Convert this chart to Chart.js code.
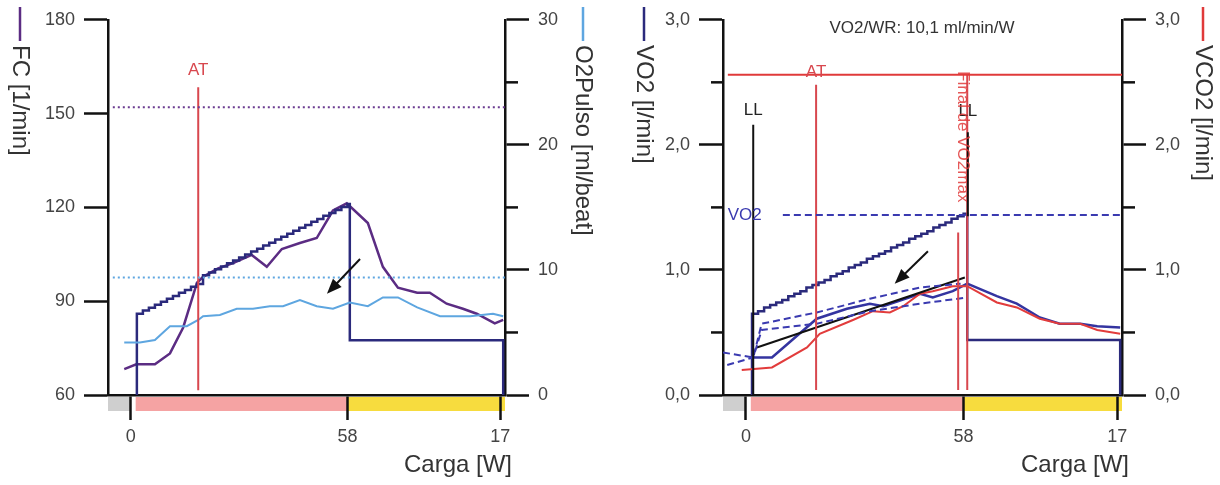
<!DOCTYPE html>
<html>
<head>
<meta charset="utf-8">
<script src="https://cdn.jsdelivr.net/npm/chart.js@4.4.1/dist/chart.umd.min.js"></script>
<style>
  body { margin: 0; background: #fff; }
  .panel { position: absolute; top: 0; width: 610px; height: 485px; }
</style>
</head>
<body>
<div class="panel" style="left:0"><canvas id="left" width="610" height="485"></canvas></div>
<div class="panel" style="left:610px"><canvas id="right" width="610" height="485"></canvas></div>
<script>
// time axis (s) with the load labels shown at phase changes
const tickTimes = [0, 360, 614];
const tickLabels = ['0', '58', '17'];
const phaseStart = [-38, 8, 360];
const phaseEnd = [0, 360, 622];

// left panel: FC and O2 pulse
const fcT = [-11, 9, 40, 65, 87, 110, 120, 145, 170, 201, 226, 251, 281, 309, 336, 359, 394, 419, 444, 476, 497, 525, 552, 575, 605, 619];
const fcV = [68.3, 69.8, 69.8, 73.3, 81.6, 95.9, 97.8, 100.5, 102.2, 104.8, 101, 106.7, 108.6, 110.2, 119, 121.3, 115, 101, 94.3, 92.7, 92.7, 89.2, 87.6, 86, 82.9, 84];
const o2T = [-11, 15, 40, 65, 93, 112, 120, 148, 176, 203, 231, 253, 281, 309, 336, 364, 394, 419, 444, 476, 514, 564, 602, 619];
const o2V = [4.2, 4.2, 4.4, 5.5, 5.5, 6.0, 6.3, 6.4, 6.9, 6.9, 7.1, 7.1, 7.6, 7.1, 6.9, 7.4, 7.1, 7.8, 7.8, 7.0, 6.3, 6.3, 6.5, 6.3];
const loadT = [10, 10, 20, 30, 40, 50, 60, 70, 80, 90, 100, 110, 120, 130, 140, 150, 160, 170, 180, 190, 200, 210, 220, 230, 240, 250, 260, 270, 280, 290, 300, 310, 320, 330, 340, 350, 360, 364, 619, 619];
const loadV = [60, 86.0, 87.0, 87.9, 88.9, 89.8, 90.8, 91.7, 92.7, 93.6, 94.6, 95.5, 98.3, 99.2, 100.2, 101.1, 102.1, 103.0, 104.0, 104.9, 105.9, 106.8, 107.8, 108.7, 109.7, 110.6, 111.6, 112.5, 113.5, 114.4, 115.4, 116.3, 117.3, 118.2, 119.2, 120.1, 121.1, 77.5, 77.5, 60];
const fcRef = 152;
const o2Ref = 9.4;
const atLeft = 112;

// right panel: VO2 and VCO2
const load2T = [10, 10, 20, 30, 40, 50, 60, 70, 80, 90, 100, 110, 120, 130, 140, 150, 160, 170, 180, 190, 200, 210, 220, 230, 240, 250, 260, 270, 280, 290, 300, 310, 320, 330, 340, 350, 360, 366, 619, 619];
const load2V = [0, 0.65, 0.67, 0.70, 0.72, 0.74, 0.76, 0.79, 0.81, 0.83, 0.86, 0.88, 0.90, 0.92, 0.95, 0.97, 0.99, 1.02, 1.04, 1.06, 1.09, 1.11, 1.13, 1.15, 1.18, 1.20, 1.22, 1.25, 1.27, 1.29, 1.31, 1.34, 1.36, 1.38, 1.41, 1.43, 1.45, 0.44, 0.44, 0];
const vo2T = [12, 43, 117, 167, 205, 227, 288, 309, 342, 366, 415, 448, 486, 519, 553, 581, 619];
const vo2V = [0.30, 0.30, 0.61, 0.69, 0.73, 0.71, 0.81, 0.78, 0.83, 0.89, 0.79, 0.73, 0.62, 0.57, 0.57, 0.55, 0.54];
const vco2T = [-7, 43, 101, 122, 177, 210, 238, 260, 288, 309, 342, 366, 415, 448, 486, 519, 553, 581, 619];
const vco2V = [0.20, 0.22, 0.38, 0.49, 0.60, 0.67, 0.66, 0.71, 0.81, 0.83, 0.87, 0.87, 0.74, 0.70, 0.61, 0.57, 0.57, 0.52, 0.49];
const regT = [18, 362];
const regV = [0.38, 0.94];
const upT = [-38, 12, 26, 117, 205, 288, 355];
const upV = [0.34, 0.30, 0.57, 0.66, 0.77, 0.86, 0.89];
const loT = [-31, 12, 26, 117, 205, 288, 366];
const loV = [0.24, 0.30, 0.52, 0.57, 0.67, 0.73, 0.78];
const vo2Max = 1.44;
const atRef = 2.56;
const atRight = 116;
const llT = [12, 367];
const endT = [351, 366];

const FONT = '"Liberation Sans", Arial, sans-serif';
const pts = (ts, vs) => ts.map((t, i) => ({ x: t, y: vs[i] }));
const comma = v => Number(v).toFixed(1).replace('.', ',');

function line(data, color, width, yAxisID, extra) {
  return Object.assign({ data, borderColor: color, borderWidth: width, yAxisID,
    pointRadius: 0, tension: 0, fill: false }, extra || {});
}

function axisY(pos, min, max, step, width, fmt) {
  return {
    position: pos, min, max,
    afterFit: s => { s.width = width; },
    ticks: { stepSize: step, color: '#444', font: { size: 18, family: FONT }, padding: 9, callback: fmt },
    grid: { drawOnChartArea: false, tickLength: 24, tickWidth: 2.5, tickColor: '#111' },
    border: { color: '#111', width: 2.5 }
  };
}

const axisX = {
  type: 'linear', min: -38, max: 622,
  afterFit: s => { s.height = 90; },
  afterBuildTicks: s => { s.ticks = tickTimes.map(v => ({ value: v })); },
  ticks: { callback: (v, i) => tickLabels[i], autoSkip: false, maxRotation: 0,
    color: '#444', font: { size: 18, family: FONT }, padding: 6 },
  grid: { drawOnChartArea: false, tickLength: 25, tickWidth: 2.5, tickColor: '#111' },
  border: { color: '#111', width: 2.5 }
};

function vTitle(ctx, text, color, cx) {
  ctx.save();
  ctx.strokeStyle = color; ctx.lineWidth = 2.5;
  ctx.beginPath(); ctx.moveTo(cx, 7); ctx.lineTo(cx, 41); ctx.stroke();
  ctx.translate(cx, 45); ctx.rotate(Math.PI / 2);
  ctx.fillStyle = '#333'; ctx.font = '24px ' + FONT;
  ctx.textAlign = 'left'; ctx.textBaseline = 'middle';
  ctx.fillText(text, 0, 0);
  ctx.restore();
}

function arrow(ctx, x0, y0, x1, y1) {
  const a = Math.atan2(y1 - y0, x1 - x0);
  ctx.save();
  ctx.strokeStyle = '#111'; ctx.fillStyle = '#111'; ctx.lineWidth = 2;
  ctx.beginPath(); ctx.moveTo(x0, y0);
  ctx.lineTo(x1 - 10 * Math.cos(a), y1 - 10 * Math.sin(a)); ctx.stroke();
  ctx.beginPath(); ctx.moveTo(x1, y1);
  ctx.lineTo(x1 - 15 * Math.cos(a) + 6 * Math.sin(a), y1 - 15 * Math.sin(a) - 6 * Math.cos(a));
  ctx.lineTo(x1 - 15 * Math.cos(a) - 6 * Math.sin(a), y1 - 15 * Math.sin(a) + 6 * Math.cos(a));
  ctx.closePath(); ctx.fill();
  ctx.restore();
}

function text(ctx, str, x, y, color, size, align) {
  ctx.save();
  ctx.fillStyle = color; ctx.font = size + 'px ' + FONT;
  ctx.textAlign = align || 'center'; ctx.textBaseline = 'middle';
  ctx.fillText(str, x, y);
  ctx.restore();
}

function decor(opts) {
  return {
    id: 'decor',
    beforeDraw(chart) {
      const { ctx, chartArea: a, scales: { x } } = chart;
      const cols = ['#cfcfcf', '#f5a3a3', '#f7dc3e'];
      phaseStart.forEach((s, i) => {
        const x0 = x.getPixelForValue(s), x1 = x.getPixelForValue(phaseEnd[i]);
        ctx.fillStyle = cols[i];
        ctx.fillRect(x0, a.bottom + 2, x1 - x0, 14);
      });
    },
    afterDraw(chart) {
      const { ctx, chartArea: a, scales } = chart;
      // minor ticks
      ctx.save();
      ctx.strokeStyle = '#111'; ctx.lineWidth = 2.5;
      opts.minor.forEach(m => {
        const s = scales[m.axis];
        m.values.forEach(v => {
          const y = s.getPixelForValue(v);
          const x0 = s.position === 'left' ? a.left : a.right;
          const x1 = s.position === 'left' ? a.left - 12 : a.right + 13;
          ctx.beginPath(); ctx.moveTo(x0, y); ctx.lineTo(x1, y); ctx.stroke();
        });
      });
      ctx.restore();
      opts.titles.forEach(t => vTitle(ctx, t.text, t.color, t.x));
      text(ctx, 'Carga [W]', a.right + 7, 465, '#333', 24, 'right');
      opts.draw(chart);
    }
  };
}

const common = {
  responsive: false, animation: false, devicePixelRatio: 1,
  layout: { padding: { top: 17 } },
  plugins: { legend: { display: false }, tooltip: { enabled: false } }
};

new Chart(document.getElementById('left'), {
  type: 'line',
  data: {
    datasets: [
      line(pts([-30, 622], [fcRef, fcRef]), '#6a3a90', 2, 'y', { borderDash: [2, 3] }),
      line(pts([-30, 622], [o2Ref, o2Ref]), '#5ea6e0', 2, 'y2', { borderDash: [2, 3] }),
      line(pts([atLeft, atLeft], [61.5, 158.4]), '#d8474e', 2, 'y'),
      line(pts(o2T, o2V), '#5ea6e0', 2, 'y2'),
      line(pts(loadT, loadV), '#2b2a7c', 2.5, 'y', { stepped: 'before' }),
      line(pts(fcT, fcV), '#5b2c83', 2.5, 'y')
    ]
  },
  options: Object.assign({}, common, {
    scales: {
      x: axisX,
      y: axisY('left', 60, 180, 30, 108, v => v),
      y2: axisY('right', 0, 30, 10, 105, v => v)
    }
  }),
  plugins: [decor({
    minor: [{ axis: 'y2', values: [5, 15, 25] }],
    titles: [{ text: 'FC [1/min]', color: '#5b2c83', x: 20 },
             { text: 'O2Pulso [ml/beat]', color: '#5ea6e0', x: 583 }],
    draw(chart) {
      const { ctx, scales: { x, y } } = chart;
      text(ctx, 'AT', x.getPixelForValue(atLeft), y.getPixelForValue(163.8), '#d8474e', 17);
      arrow(ctx, x.getPixelForValue(381), y.getPixelForValue(103.5), x.getPixelForValue(326), y.getPixelForValue(92.4));
    }
  })]
});

new Chart(document.getElementById('right'), {
  type: 'line',
  data: {
    datasets: [
      line(pts([-30, 622], [atRef, atRef]), '#e03a3a', 2, 'y'),
      line(pts([61, 622], [vo2Max, vo2Max]), '#3a3ab0', 2, 'y', { borderDash: [7, 4] }),
      line(pts([atRight, atRight], [0.04, 2.48]), '#d8474e', 2, 'y'),
      line(pts([llT[0], llT[0]], [0, 2.16]), '#111', 2, 'y'),
      line(pts([llT[1], llT[1]], [1.43, 2.10]), '#111', 2, 'y'),
      line(pts([endT[0], endT[0]], [0.04, 1.30]), '#d8474e', 2, 'y'),
      line(pts([endT[1], endT[1]], [0.04, atRef]), '#d8474e', 2, 'y'),
      line(pts(upT, upV), '#3a3ab0', 2, 'y', { borderDash: [7, 4] }),
      line(pts(loT, loV), '#3a3ab0', 2, 'y', { borderDash: [7, 4] }),
      line(pts(regT, regV), '#111', 2, 'y'),
      line(pts(vco2T, vco2V), '#e23c3c', 2, 'y2'),
      line(pts(vo2T, vo2V), '#3434a0', 2.5, 'y'),
      line(pts(load2T, load2V), '#2b2a7c', 2.5, 'y', { stepped: 'before' })
    ]
  },
  options: Object.assign({}, common, {
    scales: {
      x: axisX,
      y: axisY('left', 0, 3, 1, 113, comma),
      y2: axisY('right', 0, 3, 1, 98, comma)
    }
  }),
  plugins: [decor({
    minor: [{ axis: 'y', values: [0.5, 1.5, 2.5] }, { axis: 'y2', values: [0.5, 1.5, 2.5] }],
    titles: [{ text: 'VO2 [l/min]', color: '#2b2a7c', x: 34 },
             { text: 'VCO2 [l/min]', color: '#e03a3a', x: 593 }],
    draw(chart) {
      const { ctx, scales: { x, y } } = chart;
      text(ctx, 'VO2/WR: 10,1 ml/min/W', 312, 28, '#333', 17);
      text(ctx, 'AT', x.getPixelForValue(atRight), y.getPixelForValue(2.58), '#d8474e', 17);
      text(ctx, 'LL', x.getPixelForValue(llT[0]), y.getPixelForValue(2.28), '#222', 17);
      text(ctx, 'LL', x.getPixelForValue(llT[1]), y.getPixelForValue(2.27), '#222', 17);
      text(ctx, 'VO2', x.getPixelForValue(-2), y.getPixelForValue(vo2Max), '#3a3ab0', 17);
      ctx.save();
      ctx.translate(x.getPixelForValue(359), y.getPixelForValue(2.59));
      ctx.rotate(Math.PI / 2);
      ctx.globalAlpha = 0.85;
      text(ctx, 'Final de VO2max', 0, 0, '#e03a3a', 17, 'left');
      ctx.restore();
      arrow(ctx, x.getPixelForValue(301), y.getPixelForValue(1.15), x.getPixelForValue(246), y.getPixelForValue(0.89));
    }
  })]
});
</script>
</body>
</html>
